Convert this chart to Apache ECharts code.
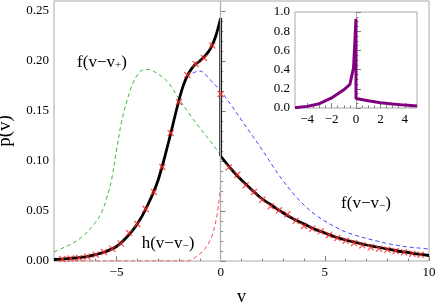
<!DOCTYPE html>
<html><head><meta charset="utf-8">
<script src="https://cdn.jsdelivr.net/npm/echarts@6/dist/echarts.min.js"></script>
<style>html,body{margin:0;padding:0;background:#fff}#c{width:436px;height:307px}</style>
</head><body><div id="c"></div>
<script>
// ---- main plot data ----
const hLeftV = [-8, -7.5, -7, -6.5, -6, -5.5, -5, -4.5, -4, -3.5, -3, -2.5, -2, -1.75, -1.5, -1.25, -1, -0.75, -0.5, -0.25, 0];
const hLeftP = [0.0015, 0.0022, 0.003, 0.0042, 0.0063, 0.0095, 0.0145, 0.024, 0.037, 0.056, 0.081, 0.119, 0.161, 0.178, 0.189, 0.196, 0.200, 0.205, 0.212, 0.224, 0.243];
const hRightV = [0, 0.5, 1, 1.5, 2, 2.5, 3, 3.5, 4, 4.5, 5, 5.5, 6, 6.5, 7, 7.5, 8, 8.5, 9, 9.5, 10];
const hRightP = [0.105, 0.092, 0.081, 0.071, 0.062, 0.055, 0.048, 0.042, 0.037, 0.032, 0.028, 0.024, 0.021, 0.0185, 0.016, 0.014, 0.012, 0.010, 0.0085, 0.0068, 0.0055];

const greenV = [-8, -7.5, -7, -6.5, -6, -5.75, -5.5, -5.25, -5, -4.75, -4.5, -4.25, -4, -3.75, -3.5, -3, -2.5, -2, -1.5, -1, -0.5, 0];
const greenP = [0.009, 0.0138, 0.019, 0.027, 0.039, 0.047, 0.061, 0.080, 0.111, 0.140, 0.160, 0.176, 0.186, 0.191, 0.1915, 0.187, 0.178, 0.162, 0.147, 0.133, 0.120, 0.106];

const blueV = [-1.35, -1, -0.5, 0, 0.5, 1, 1.5, 2, 2.5, 3, 3.5, 4, 4.5, 5, 5.5, 6, 6.5, 7, 7.5, 8, 8.5, 9, 9.5, 10];
const blueP = [0.188, 0.190, 0.181, 0.170, 0.156, 0.141, 0.126, 0.111, 0.095, 0.080, 0.067, 0.056, 0.047, 0.040, 0.034, 0.029, 0.0255, 0.0225, 0.020, 0.0175, 0.0155, 0.0140, 0.013, 0.012];

const redV = [-8, -1.6, -1.4, -1.2, -1.0, -0.8, -0.6, -0.4, -0.2, -0.1, 0];
const redP = [0, 0, 0.0015, 0.004, 0.007, 0.011, 0.017, 0.026, 0.043, 0.057, 0.076];

const markV = [-7.6, -7.2, -6.8, -6.4, -6.0, -5.6, -5.2, -4.8, -4.4, -4.0, -3.6, -3.2, -2.8, -2.4, -2.0, -1.6, -1.2, -0.8, -0.4, 0,
  0.4, 0.8, 1.2, 1.6, 2.0, 2.4, 2.8, 3.2, 3.6, 4.0, 4.4, 4.8, 5.2, 5.6, 6.0, 6.4, 6.8, 7.2, 7.6, 8.0, 8.4, 8.8, 9.2, 9.6];
const markP = [0.0020, 0.0024, 0.0030, 0.0043, 0.0063, 0.0090, 0.0123, 0.0176, 0.028, 0.037, 0.052, 0.069, 0.094, 0.128, 0.159, 0.186, 0.197, 0.203, 0.2156, 0.167,
  0.0937, 0.0863, 0.0757, 0.069, 0.0613, 0.0547, 0.0507, 0.0467, 0.0403, 0.035, 0.0323, 0.0297, 0.026, 0.023, 0.0203, 0.018, 0.0157, 0.0137, 0.0123, 0.0113, 0.0100, 0.0087, 0.0073, 0.0063];

// ---- inset data ----
const insetV = [-5, -4, -3, -2, -1, -0.5, -0.2, 0, 0, 1, 2, 3, 4, 5];
const insetP = [0.003, 0.017, 0.045, 0.105, 0.19, 0.245, 0.42, 0.93, 0.098, 0.075, 0.055, 0.042, 0.030, 0.020];

// ---- ticks ----
const xMajor = [-5, 0, 5, 10];
const xMinor = [-8, -7, -6, -4, -3, -2, -1, 1, 2, 3, 4, 6, 7, 8, 9];
const yMajor = [0, 0.05, 0.10, 0.15, 0.20, 0.25];
const yMinor = [0.01, 0.02, 0.03, 0.04, 0.06, 0.07, 0.08, 0.09, 0.11, 0.12, 0.13, 0.14, 0.16, 0.17, 0.18, 0.19, 0.21, 0.22, 0.23, 0.24];
const ixMajor = [-4, -2, 0, 2, 4];
const ixMinor = [-4.5, -3.5, -3, -2.5, -1.5, -1, -0.5, 0.5, 1, 1.5, 2.5, 3, 3.5, 4.5];
const iyMajor = [0, 0.2, 0.4, 0.6, 0.8, 1.0];
const iyMinor = [0.05, 0.1, 0.15, 0.25, 0.3, 0.35, 0.45, 0.5, 0.55, 0.65, 0.7, 0.75, 0.85, 0.9, 0.95];

function pairs(a, b) { return a.map((v, i) => [v, b[i]]); }
const FONT = 'Liberation Serif';
const GRAY = '#a8a8a8';
const TICK = '#808080';
const minus = v => (v < 0 ? '\u2212' + Math.abs(v) : String(v));

function axisPair(grid, dim, min, max, major, minor, fmt, extra, z) {
  const pos = dim === 'x' ? 'bottom' : 'left';
  const main = Object.assign({
    gridIndex: grid, type: 'value', min: min, max: max, position: pos, z: z,
    axisLine: { show: false }, splitLine: { show: false },
    axisTick: { show: true, inside: true, length: 5, customValues: major, lineStyle: { color: TICK, width: 1 } },
    axisLabel: { customValues: major, formatter: fmt, fontFamily: FONT, fontSize: 13, color: '#000', margin: 5 }
  }, extra || {});
  const sub = {
    gridIndex: grid, type: 'value', min: min, max: max, position: pos, z: z,
    axisLine: { show: false }, splitLine: { show: false },
    axisTick: { show: true, inside: true, length: 2.5, customValues: minor, lineStyle: { color: TICK, width: 1 } },
    axisLabel: { show: false }
  };
  return [main, sub];
}

const nameStyle = { fontFamily: FONT, fontSize: 18, color: '#000' };
const xAxes = [
  ...axisPair(0, 'x', -8, 10, xMajor, xMinor, minus, { name: 'v', nameLocation: 'middle', nameGap: 27, nameTextStyle: nameStyle }, 3),
  ...axisPair(1, 'x', -5, 5, ixMajor, ixMinor, minus, null, 12)
];
const yAxes = [
  ...axisPair(0, 'y', 0, 0.26, yMajor, yMinor, v => v.toFixed(2), { name: 'p(v)', nameLocation: 'middle', nameRotate: 90, nameGap: 39, nameTextStyle: { fontFamily: FONT, fontSize: 19, color: '#000' } }, 3),
  ...axisPair(1, 'y', 0, 1, iyMajor, iyMinor, v => v.toFixed(1), null, 12)
];

const dashed = (name, v, p, color) => ({
  name: name, type: 'line', xAxisIndex: 0, yAxisIndex: 0, data: pairs(v, p), showSymbol: false,
  smooth: 0.35, z: 3,
  lineStyle: { color: color, width: 1, type: [4, 3] }
});

const option = {
  animation: false,
  backgroundColor: '#fff',
  grid: [
    { left: 54, top: 1, width: 375, height: 260, show: true, borderColor: GRAY, borderWidth: 1, backgroundColor: 'transparent', z: 1, containLabel: false, outerBoundsMode: 'none' },
    { left: 295, top: 12, width: 122, height: 96, show: true, borderColor: GRAY, borderWidth: 1, backgroundColor: '#fff', z: 10, containLabel: false, outerBoundsMode: 'none' }
  ],
  xAxis: xAxes,
  yAxis: yAxes,
  series: [
    {
      type: 'line', xAxisIndex: 0, yAxisIndex: 0, data: [], z: 2,
      markLine: { silent: true, symbol: 'none', label: { show: false },
        lineStyle: { color: '#b0b0b0', width: 1.3, type: 'solid' }, data: [{ xAxis: 0 }] }
    },
    dashed('green', greenV, greenP, '#3dba3d'),
    dashed('blue', blueV, blueP, '#4545ff'),
    dashed('red', redV, redP, '#ff4a4a'),
    {
      type: 'line', xAxisIndex: 0, yAxisIndex: 0, data: pairs(hLeftV, hLeftP), showSymbol: false,
      smooth: 0.35, z: 4, lineStyle: { color: '#000', width: 2.8 }
    },
    {
      type: 'line', xAxisIndex: 0, yAxisIndex: 0,
      data: [[hLeftV[hLeftV.length - 1], hLeftP[hLeftP.length - 1]], [hRightV[0], hRightP[0]]],
      showSymbol: false, z: 4, lineStyle: { color: '#000', width: 2.8 }
    },
    {
      type: 'line', xAxisIndex: 0, yAxisIndex: 0, data: pairs(hRightV, hRightP), showSymbol: false,
      smooth: 0.35, z: 4, lineStyle: { color: '#000', width: 2.8 }
    },
    {
      type: 'scatter', xAxisIndex: 0, yAxisIndex: 0, data: pairs(markV, markP), z: 5,
      symbol: 'path://M0,1.3L1.3,0L5,3.7L8.7,0L10,1.3L6.3,5L10,8.7L8.7,10L5,6.3L1.3,10L0,8.7L3.7,5Z', symbolSize: 7,
      itemStyle: { color: '#ff2a2a' }
    },
    {
      type: 'line', xAxisIndex: 2, yAxisIndex: 2, data: pairs(insetV, insetP), showSymbol: false, z: 13,
      lineStyle: { color: '#800080', width: 3 },
      markLine: { silent: true, symbol: 'none', label: { show: false }, z: 11,
        lineStyle: { color: '#b0b0b0', width: 1, type: 'solid' }, data: [{ xAxis: 0 }] }
    }
  ],
  graphic: [
    { type: 'text', x: 102, y: 61, z: 20, style: { text: '{a|f(v\u2212v}{b|+}{a|)}', align: 'center', verticalAlign: 'middle',
      rich: { a: { fontFamily: FONT, fontSize: 17, fill: '#000', lineHeight: 20, verticalAlign: 'bottom' },
              b: { fontFamily: FONT, fontSize: 11, fill: '#000', lineHeight: 13, verticalAlign: 'bottom' } } } },
    { type: 'text', x: 168, y: 242, z: 20, style: { text: '{a|h(v\u2212v}{b|\u2212}{a|)}', align: 'center', verticalAlign: 'middle',
      rich: { a: { fontFamily: FONT, fontSize: 17, fill: '#000', lineHeight: 20, verticalAlign: 'bottom' },
              b: { fontFamily: FONT, fontSize: 11, fill: '#000', lineHeight: 13, verticalAlign: 'bottom' } } } },
    { type: 'text', x: 366, y: 202, z: 20, style: { text: '{a|f(v\u2212v}{b|\u2212}{a|)}', align: 'center', verticalAlign: 'middle',
      rich: { a: { fontFamily: FONT, fontSize: 17, fill: '#000', lineHeight: 20, verticalAlign: 'bottom' },
              b: { fontFamily: FONT, fontSize: 11, fill: '#000', lineHeight: 13, verticalAlign: 'bottom' } } } }
  ]
};
const chart = echarts.init(document.getElementById('c'), null, { renderer: 'canvas' });
chart.setOption(option);
</script>
</body></html>
